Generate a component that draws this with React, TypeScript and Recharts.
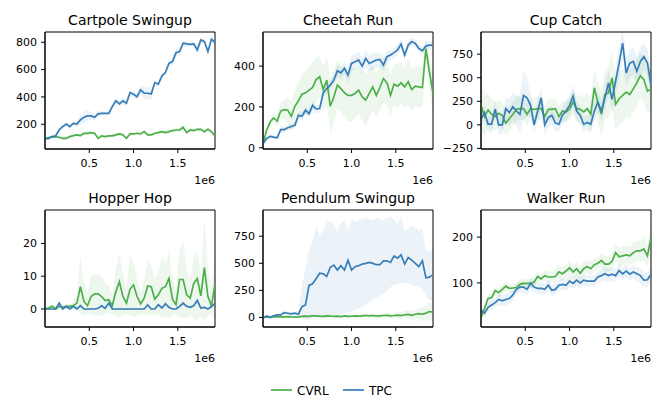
import { Area, ComposedChart, Line, ReferenceArea, XAxis, YAxis } from 'recharts';

const GREEN = '#4daf4a';
const BLUE = '#377eb8';
const FONT = '"DejaVu Sans", sans-serif';

// training steps, in units of 1e6
const steps = [
  0, 0.04, 0.08, 0.12, 0.16, 0.2, 0.24, 0.28, 0.32, 0.36, 0.4, 0.44, 0.48, 0.52, 0.56, 0.6, 0.64,
  0.68, 0.72, 0.76, 0.8, 0.84, 0.88, 0.92, 0.96, 1.0, 1.04, 1.08, 1.12, 1.16, 1.2, 1.24, 1.28,
  1.32, 1.36, 1.4, 1.44, 1.48, 1.52, 1.56, 1.6, 1.64, 1.68, 1.72, 1.76, 1.8, 1.84, 1.88, 1.92,
];
const xTicks = [0.5, 1.0, 1.5];

const cartpoleCvrl = [
  97, 102, 107, 110, 105, 97, 97, 110, 117, 122, 117, 134, 134, 139, 134, 97, 115, 110, 115, 115,
  122, 129, 122, 97, 129, 129, 134, 129, 146, 122, 122, 134, 139, 146, 139, 146, 154, 158, 158, 178,
  139, 158, 154, 163, 163, 146, 163, 146, 115,
];
const cartpoleCvrlSpread = [
  8, 8, 8, 10, 10, 10, 10, 10, 12, 12, 12, 14, 14, 12, 12, 10, 10, 10, 12, 12, 12, 12, 12, 10, 12,
  12, 12, 12, 12, 12, 12, 12, 14, 14, 14, 14, 12, 12, 14, 14, 14, 12, 12, 12, 14, 14, 14, 14, 12,
];
const cartpoleTpc = [
  95, 95, 110, 115, 160, 183, 202, 183, 207, 202, 232, 251, 261, 261, 251, 276, 280, 280, 280, 329,
  371, 349, 371, 354, 432, 420, 402, 451, 427, 427, 422, 505, 493, 554, 578, 646, 659, 724, 732, 793,
  788, 785, 788, 744, 817, 805, 732, 822, 798,
];
const cartpoleTpcSpread = [
  10, 10, 15, 15, 15, 15, 15, 15, 15, 20, 35, 40, 40, 30, 20, 20, 15, 15, 15, 20, 20, 20, 25, 25, 20,
  25, 25, 30, 40, 45, 40, 20, 20, 20, 20, 25, 30, 30, 30, 20, 20, 15, 15, 40, 20, 20, 30, 25, 20,
];

const cheetahCvrl = [
  20, 85, 126, 146, 131, 180, 187, 184, 154, 203, 230, 262, 269, 282, 295, 334, 348, 285, 331, 203,
  249, 307, 290, 269, 257, 257, 266, 282, 249, 233, 266, 298, 257, 295, 339, 318, 257, 311, 302, 318,
  298, 323, 285, 302, 298, 295, 485, 370, 265,
];
const cheetahCvrlSpread = [
  5, 10, 20, 25, 30, 40, 50, 60, 70, 80, 90, 100, 110, 120, 120, 110, 100, 110, 120, 130, 130, 120,
  110, 120, 130, 130, 120, 110, 120, 130, 120, 110, 110, 110, 120, 110, 100, 100, 110, 100, 100,
  110, 100, 100, 100, 100, 60, 80, 90,
];
const cheetahTpc = [
  20, 45, 56, 52, 49, 89, 89, 98, 104, 110, 159, 154, 184, 167, 208, 190, 192, 269, 290, 307, 331,
  377, 367, 389, 356, 413, 421, 430, 400, 438, 413, 421, 430, 433, 405, 446, 454, 466, 479, 508, 454,
  503, 520, 511, 487, 475, 498, 503, 503,
];
const cheetahTpcSpread = [
  5, 10, 10, 12, 12, 15, 15, 15, 15, 15, 20, 20, 20, 20, 20, 20, 20, 20, 25, 25, 25, 30, 30, 30, 40,
  40, 40, 40, 40, 40, 40, 40, 35, 35, 30, 30, 25, 25, 25, 25, 20, 20, 20, 20, 20, 20, 20, 20, 20,
];

const cupCvrl = [
  207, 88, 158, 112, 88, 123, 102, 18, 67, 112, 165, 172, 172, 112, 172, 165, 172, 172, 88, 165, 165,
  172, 88, 147, 137, 165, 242, 172, 165, 137, 172, 112, 393, 235, 112, 322, 340, 498, 217, 277, 312,
  347, 322, 382, 445, 522, 480, 357, 382,
];
const cupCvrlSpread = [
  250, 220, 180, 160, 150, 140, 140, 130, 130, 130, 130, 120, 120, 120, 120, 120, 120, 120, 110, 110,
  110, 110, 110, 110, 110, 120, 130, 140, 150, 160, 170, 180, 200, 220, 240, 260, 270, 280, 280, 280,
  280, 270, 260, 250, 250, 240, 240, 230, 230,
];
const cupTpc = [
  60, 130, 7, 7, 165, 0, 0, 172, 130, 193, 147, 112, 312, 287, 207, 0, 147, 287, 0, 77, 102, 18, 7,
  102, 147, 207, 305, 147, 102, 7, 25, 7, 147, 242, 147, 287, 445, 270, 463, 655, 866, 550, 655, 673,
  568, 673, 725, 655, 420,
];
const cupTpcSpread = [
  60, 80, 80, 90, 100, 100, 100, 120, 140, 150, 160, 200, 260, 200, 120, 100, 110, 120, 100, 100, 100,
  90, 80, 90, 100, 110, 120, 100, 90, 80, 80, 90, 100, 110, 120, 130, 140, 150, 160, 170, 160, 150,
  150, 140, 150, 150, 140, 150, 150,
];

const hopperCvrl = [
  0, 0.3, 0.8, 0, 0.8, 0.5, 0.8, 0.8, 1, 1.8, 6.8, 2.3, 1, 3.8, 4.6, 4.6, 3.8, 2.6, 2.8, 1, 5.3, 8.3,
  3.8, 1.8, 6, 7.3, 3.8, 1.6, 3.3, 7, 6.8, 3, 4.3, 6.3, 6.8, 9.3, 3, 1.3, 9, 9, 4.3, 3.3, 7.8, 9.3, 4,
  12.6, 3.8, 1, 7.6,
];
const hopperCvrlLow = [
  -0.5, -0.3, 0, -0.5, 0, -0.2, 0, 0, -0.3, -0.5, -1.5, -2, -1.5, -1.5, -2, -2, -2, -1.5, -1, -1.5,
  -2, -2.5, -2, -1.5, -2, -2.5, -2, -1.5, -1.5, -2, -2, -1.5, -2, -2.5, -2.5, -3, -2, -1.5, -2.5, -3,
  -2.5, -2, -3, -3.5, -2.5, -3.5, -2, -1.5, -3,
];
const hopperCvrlHigh = [
  0.5, 0.8, 1.5, 1, 1.5, 1.2, 1.5, 1.5, 2, 4, 16, 8, 5, 10, 10.5, 10.5, 10, 8, 7, 4, 12, 16.8, 11, 6,
  17, 14, 9, 5, 9, 14.8, 13, 9, 11, 16, 14, 17.5, 9, 6, 18, 21, 12, 9, 16, 17.8, 10, 27.8, 12, 6, 16,
];
const hopperTpc = [
  0, 0, 0, 0, 1.8, 0, 0.8, 0, 0.8, 0, 1, 0, 0, 0, 0, 0.2, 1, 0.2, 1.8, 0, 0, 0, 0, 0, 0, 0, 0, 0, 0,
  1.2, 0, 0, 1.3, 0.3, 1.6, 0.5, 0, 0, 0.8, 1.8, 0.8, 0.5, 1, 2.6, 0.3, 0.5, 0, 0.8, 1.6,
];
const hopperTpcSpread = [
  0.2, 0.2, 0.2, 0.3, 0.8, 0.3, 0.5, 0.3, 0.5, 0.3, 0.6, 0.3, 0.3, 0.3, 0.3, 0.3, 0.6, 0.3, 0.8, 0.3,
  0.3, 0.3, 0.3, 0.3, 0.3, 0.3, 0.3, 0.3, 0.3, 0.6, 0.3, 0.3, 0.6, 0.3, 0.7, 0.4, 0.3, 0.3, 0.5, 0.8,
  0.5, 0.4, 0.6, 1, 0.4, 0.4, 0.3, 0.5, 0.7,
];

const pendulumCvrl = [
  0, 5, 3, 5, 8, 5, 5, 8, 5, 3, 5, 10, 12, 10, 15, 15, 12, 10, 15, 12, 10, 12, 8, 15, 10, 12, 15, 12,
  15, 18, 15, 18, 15, 15, 18, 20, 15, 18, 22, 18, 25, 28, 20, 30, 35, 30, 40, 55, 50,
];
const pendulumCvrlSpread = [
  5, 5, 5, 5, 5, 5, 5, 5, 5, 5, 8, 8, 10, 10, 10, 10, 10, 10, 12, 12, 12, 12, 12, 12, 12, 12, 15, 15,
  15, 15, 15, 18, 18, 20, 20, 22, 25, 25, 28, 30, 35, 40, 40, 45, 50, 60, 70, 80, 80,
];
const pendulumTpc = [
  -6, 15, 0, 15, 24, 24, 45, 39, 33, 39, 30, 100, 115, 296, 311, 357, 408, 402, 378, 463, 484, 438,
  478, 438, 529, 438, 469, 478, 493, 499, 508, 499, 487, 487, 523, 523, 508, 568, 547, 578, 493, 553,
  529, 499, 469, 523, 366, 372, 396,
];
const pendulumTpcLow = [
  -20, 0, -10, 0, 5, 5, 25, 20, 15, 20, 10, -10, -20, -20, -10, -10, 0, 0, 0, 10, 20, 20, 30, 40, 50,
  60, 70, 80, 100, 120, 140, 160, 180, 200, 220, 250, 280, 300, 310, 320, 320, 310, 300, 290, 280,
  260, 200, 160, 150,
];
const pendulumTpcHigh = [
  10, 25, 15, 25, 40, 40, 60, 55, 50, 55, 50, 300, 450, 620, 700, 850, 760, 800, 880, 890, 860, 790,
  870, 900, 800, 910, 880, 900, 910, 920, 910, 900, 920, 910, 900, 920, 930, 900, 860, 930, 800, 820,
  850, 830, 800, 820, 620, 600, 640,
];

const walkerCvrl = [
  24, 45, 66, 68, 83, 79, 86, 93, 88, 89, 90, 97, 99, 99, 99, 102, 114, 109, 116, 113, 113, 114, 124,
  120, 126, 133, 124, 131, 121, 131, 136, 131, 140, 143, 149, 141, 141, 147, 166, 157, 159, 161, 159,
  166, 170, 170, 174, 159, 199,
];
const walkerCvrlSpread = [
  5, 8, 10, 10, 10, 10, 10, 10, 10, 10, 10, 10, 10, 10, 10, 12, 12, 12, 12, 12, 12, 15, 15, 15, 15,
  15, 15, 15, 15, 15, 15, 15, 15, 15, 15, 18, 18, 18, 18, 20, 20, 20, 20, 22, 22, 22, 25, 25, 25,
];
const walkerTpc = [
  41, 34, 47, 52, 57, 64, 61, 64, 66, 74, 86, 91, 91, 86, 99, 91, 88, 88, 86, 95, 84, 86, 95, 97, 95,
  104, 99, 106, 100, 106, 104, 104, 104, 113, 116, 120, 116, 119, 116, 127, 120, 126, 119, 124, 120,
  116, 106, 107, 119,
];
const walkerTpcSpread = [
  8, 8, 10, 10, 10, 12, 12, 12, 12, 12, 12, 12, 12, 12, 12, 12, 12, 12, 12, 12, 12, 12, 12, 12, 12,
  12, 12, 12, 12, 12, 12, 12, 12, 12, 14, 14, 14, 14, 14, 14, 14, 14, 14, 14, 16, 16, 16, 16, 16,
];

type Series = { mean: number[]; spread?: number[]; low?: number[]; high?: number[] };

type PanelDef = {
  title: string;
  col: number;
  row: number;
  yDomain: [number, number];
  yTicks: number[];
  cvrl: Series;
  tpc: Series;
};

const panels: PanelDef[] = [
  {
    title: 'Cartpole Swingup', col: 0, row: 0, yDomain: [19, 875], yTicks: [200, 400, 600, 800],
    cvrl: { mean: cartpoleCvrl, spread: cartpoleCvrlSpread },
    tpc: { mean: cartpoleTpc, spread: cartpoleTpcSpread },
  },
  {
    title: 'Cheetah Run', col: 1, row: 0, yDomain: [-6, 567], yTicks: [0, 200, 400],
    cvrl: { mean: cheetahCvrl, spread: cheetahCvrlSpread },
    tpc: { mean: cheetahTpc, spread: cheetahTpcSpread },
  },
  {
    title: 'Cup Catch', col: 2, row: 0, yDomain: [-256, 985], yTicks: [-250, 0, 250, 500, 750],
    cvrl: { mean: cupCvrl, spread: cupCvrlSpread },
    tpc: { mean: cupTpc, spread: cupTpcSpread },
  },
  {
    title: 'Hopper Hop', col: 0, row: 1, yDomain: [-5.5, 30.2], yTicks: [0, 10, 20],
    cvrl: { mean: hopperCvrl, low: hopperCvrlLow, high: hopperCvrlHigh },
    tpc: { mean: hopperTpc, spread: hopperTpcSpread },
  },
  {
    title: 'Pendulum Swingup', col: 1, row: 1, yDomain: [-88, 992], yTicks: [0, 250, 500, 750],
    cvrl: { mean: pendulumCvrl, spread: pendulumCvrlSpread },
    tpc: { mean: pendulumTpc, low: pendulumTpcLow, high: pendulumTpcHigh },
  },
  {
    title: 'Walker Run', col: 2, row: 1, yDomain: [4, 259], yTicks: [100, 200],
    cvrl: { mean: walkerCvrl, spread: walkerCvrlSpread },
    tpc: { mean: walkerTpc, spread: walkerTpcSpread },
  },
];

// layout of the plot boxes in page pixels
const plotLefts = [45, 263, 481];
const plotTops = [32, 210];
const PLOT_W = 170;
const PLOT_H = 117;
const YW = 45;
const MT = 5;
const MR = 5;
const XH = 40;

const tickStyle = { fill: '#000', fontSize: 11, fontFamily: FONT };

function band(s: Series, i: number): [number, number] {
  if (s.low && s.high) return [s.low[i], s.high[i]];
  const d = s.spread ? s.spread[i] : 0;
  return [s.mean[i] - d, s.mean[i] + d];
}

const fmtY = (v: number) => (v < 0 ? '\u2212' + Math.abs(v) : String(v));

function Panel({ p }: { p: PanelDef }) {
  const rows = steps.map((t, i) => ({
    t,
    cvrl: p.cvrl.mean[i],
    tpc: p.tpc.mean[i],
    cvrlBand: band(p.cvrl, i),
    tpcBand: band(p.tpc, i),
  }));
  return (
    <div style={{ position: 'absolute', left: plotLefts[p.col] - YW, top: plotTops[p.row] - MT }}>
      <ComposedChart
        width={YW + PLOT_W + MR}
        height={MT + PLOT_H + XH}
        data={rows}
        margin={{ top: MT, right: MR, bottom: 0, left: 0 }}
      >
        <XAxis
          dataKey="t"
          type="number"
          domain={[0, 1.92]}
          ticks={xTicks}
          tickFormatter={(v: number) => v.toFixed(1)}
          tick={tickStyle}
          tickSize={4}
          tickMargin={6}
          height={XH}
          axisLine={{ stroke: '#000' }}
          tickLine={{ stroke: '#000' }}
          allowDataOverflow
        />
        <YAxis
          type="number"
          domain={p.yDomain}
          ticks={p.yTicks}
          tickFormatter={fmtY}
          tick={tickStyle}
          tickSize={4}
          tickMargin={4}
          width={YW}
          axisLine={{ stroke: '#000' }}
          tickLine={{ stroke: '#000' }}
          allowDataOverflow
        />
        <Area
          dataKey="cvrlBand"
          type="linear"
          stroke="none"
          fill={GREEN}
          fillOpacity={0.1}
          activeDot={false}
          isAnimationActive={false}
        />
        <Line
          dataKey="cvrl"
          type="linear"
          stroke={GREEN}
          strokeWidth={1.7}
          dot={false}
          activeDot={false}
          isAnimationActive={false}
        />
        <Area
          dataKey="tpcBand"
          type="linear"
          stroke="none"
          fill={BLUE}
          fillOpacity={0.1}
          activeDot={false}
          isAnimationActive={false}
        />
        <Line
          dataKey="tpc"
          type="linear"
          stroke={BLUE}
          strokeWidth={1.7}
          dot={false}
          activeDot={false}
          isAnimationActive={false}
        />
        <ReferenceArea
          x1={0}
          x2={1.92}
          y1={p.yDomain[0]}
          y2={p.yDomain[1]}
          fill="none"
          stroke="#000"
          strokeWidth={1}
          ifOverflow="visible"
        />
      </ComposedChart>
    </div>
  );
}

export default function App() {
  return (
    <div style={{ position: 'absolute', left: 0, top: 0, width: 664, height: 408, background: '#fff' }}>
      {panels.map((p) => (
        <Panel key={p.title} p={p} />
      ))}
      <svg
        width={664}
        height={408}
        style={{ position: 'absolute', left: 0, top: 0, pointerEvents: 'none' }}
        fontFamily={FONT}
      >
        {panels.map((p) => (
          <g key={p.title}>
            <text
              x={plotLefts[p.col] + PLOT_W / 2}
              y={plotTops[p.row] - 7}
              textAnchor="middle"
              fontSize={14}
              fill="#000"
            >
              {p.title}
            </text>
            <text
              x={plotLefts[p.col] + PLOT_W}
              y={plotTops[p.row] + PLOT_H + 35}
              textAnchor="end"
              fontSize={11}
              fill="#000"
            >
              1e6
            </text>
          </g>
        ))}
        <line x1={271} y1={390} x2={292} y2={390} stroke={GREEN} strokeWidth={1.7} />
        <text x={297} y={394.5} fontSize={12} fill="#000">
          CVRL
        </text>
        <line x1={343} y1={390} x2={364} y2={390} stroke={BLUE} strokeWidth={1.7} />
        <text x={369} y={394.5} fontSize={12} fill="#000">
          TPC
        </text>
      </svg>
    </div>
  );
}
